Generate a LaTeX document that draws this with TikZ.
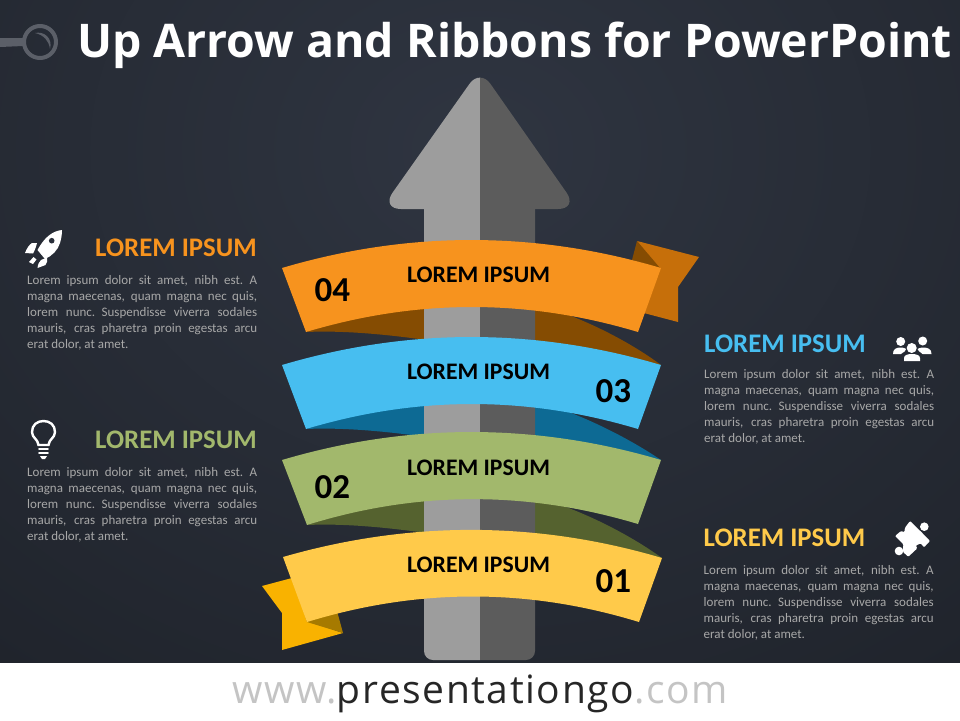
\documentclass[tikz,border=0pt]{standalone}
\usepackage{fontspec}
\setmainfont{Carlito}
\newfontfamily\titlefont{Open Sans}
\newfontfamily\urlfont[LetterSpace=4]{Open Sans}
\usepackage{xcolor}

\definecolor{bgtop}{HTML}{2F3541}
\definecolor{bgbot}{HTML}{20242C}
\definecolor{ringgray}{HTML}{5B5F68}
\definecolor{arrowlight}{HTML}{9D9D9D}
\definecolor{arrowdark}{HTML}{5C5C5C}
\definecolor{bodygray}{HTML}{A8A8A8}
\definecolor{urlgray}{HTML}{C4C4C4}
\definecolor{urldark}{HTML}{262626}
\definecolor{orangeA}{HTML}{F7931E}
\definecolor{orangeB}{HTML}{C66F0A}
\definecolor{orangeC}{HTML}{854C02}
\definecolor{blueA}{HTML}{47BEF0}
\definecolor{blueC}{HTML}{0D6A94}
\definecolor{greenA}{HTML}{A2B86C}
\definecolor{greenC}{HTML}{55622F}
\definecolor{yellowA}{HTML}{FFCA4A}
\definecolor{yellowB}{HTML}{F9B200}
\definecolor{yellowC}{HTML}{A67A00}

\tikzset{
  bandtext/.style={anchor=base, inner sep=0pt, font=\fontsize{23.7}{23.7}\selectfont\bfseries, text=black},
  bandnum/.style={anchor=base west, inner sep=0pt, font=\fontsize{35}{35}\selectfont\bfseries, text=black},
  headtext/.style={inner sep=0pt, font=\fontsize{26.8}{26.8}\selectfont\bfseries},
  bodytext/.style={anchor=north west, inner sep=0pt, text width=230pt, align=left, text=bodygray, font=\fontsize{13}{16}\selectfont},
  iconline/.style={white, line width=2.4pt, line cap=round},
}

\newcommand{\jl}[1]{\leavevmode\hbox to 230pt{\spaceskip=.226em plus 1fil\relax #1}}
\newcommand{\loremlines}{\jl{Lorem ipsum dolor sit amet, nibh est. A}\\
\jl{magna maecenas, quam magna nec quis,}\\
\jl{lorem nunc. Suspendisse viverra sodales}\\
\jl{mauris, cras pharetra proin egestas arcu}\\
{\spaceskip=.226em\relax erat dolor, at amet.}}
\newcommand{\arrowtop}{(480,209) [rounded corners=20pt] -- (381,209) [rounded corners=18pt] -- (480,69) [rounded corners=20pt] -- (578,209) -- cycle}
\newcommand{\arrowstem}{[rounded corners=9pt] (424,180) -- (424,660) -- (535,660) -- (535,180) -- cycle}

\begin{document}
\begin{tikzpicture}[x=1pt,y=-1pt]
    \useasboundingbox (0,0) rectangle (960,720);
    % fond
    \fill[white] (0,0) rectangle (960,720);
\begin{scope}
    \clip (0,0) rectangle (960,662);
    \shade[inner color=bgtop, outer color=bgbot] (-300,-500) rectangle (1260,800);
\end{scope}
    % loupe du titre
    \fill[ringgray] (0,38) -- (23,38) -- (23,46) -- (0,47) -- cycle;
    \draw[ringgray, line width=4pt] (40,42) circle(16);
    \fill[ringgray] (35,33) .. controls (44,31) and (53,38) .. (50,49) .. controls (49,41) and (44,35) .. (35,33) -- cycle;
    \node[anchor=base west, inner sep=0pt, text=white, font=\titlefont\fontsize{46.4}{46.4}\selectfont\bfseries] (title) at (77,57) {Up Arrow and Ribbons for PowerPoint};

    % dessous des rubans
    \fill[orangeC] (306,332) .. controls (350,330) and (400,336) .. (440,342) -- (535,350) -- (661,365) .. controls (630,342) and (590,322) .. (555,310) -- (424,295) -- cycle;
    \fill[blueC] (306,429) .. controls (350,427) and (400,433) .. (440,439) -- (535,447) -- (661,460) .. controls (630,439) and (590,419) .. (555,407) -- (424,392) -- cycle;
    \fill[greenC] (307,525) .. controls (350,523) and (400,529) .. (440,535) -- (535,543) -- (662,558) .. controls (630,535) and (590,515) .. (555,503) -- (424,488) -- cycle;

    % flèche
\begin{scope}
    \clip (0,0) rectangle (480,720);
    \fill[arrowlight] \arrowtop;
    \fill[arrowlight] \arrowstem;
\end{scope}
\begin{scope}
    \clip (480,0) rectangle (960,720);
    \fill[arrowdark] \arrowtop;
    \fill[arrowdark] \arrowstem;
\end{scope}

    % queues
    \fill[orangeB] (637,241) -- (699,257) -- (678,287) -- (678,322) -- (640,312) -- (655,265) -- cycle;
    \fill[orangeC] (637,241) -- (660,268) -- (632,260) -- cycle;
    \fill[yellowB] (262,586) -- (292,578) -- (310,622) -- (343,633) -- (282,650) -- (282,613) -- cycle;
    \fill[yellowC] (307,622) -- (343,633) -- (337,611) -- (300,600) -- cycle;

    % rubans
    \fill[orangeA] (282,268) .. controls (408,230.7) and (535,230.7) .. (661,268) -- (638,332) .. controls (527,298.7) and (417,298.7) .. (306,332) -- cycle;
    \fill[blueA] (282,365) .. controls (408,327.7) and (535,327.7) .. (661,365) -- (638,429) .. controls (527,395.7) and (417,395.7) .. (306,429) -- cycle;
    \fill[greenA] (282,460) .. controls (408,422.7) and (535,422.7) .. (661,460) -- (638,524) .. controls (527,490.7) and (417,490.7) .. (307,525) -- cycle;
    \fill[yellowA] (283,557) .. controls (409,520.7) and (536,520.7) .. (662,558) -- (639,622) .. controls (528,588) and (418,588) .. (307,622) -- cycle;

    \node[bandtext] (bandD) at (478.5,282) {LOREM IPSUM};
    \node[bandtext] (bandC) at (478.5,379) {LOREM IPSUM};
    \node[bandtext] (bandB) at (478.5,475) {LOREM IPSUM};
    \node[bandtext] (bandA) at (478.5,572) {LOREM IPSUM};
    \node[bandnum] (numD) at (314.5,301) {04};
    \node[bandnum] (numC) at (595.5,402) {03};
    \node[bandnum] (numB) at (314.5,498) {02};
    \node[bandnum] (numA) at (595.5,592) {01};

    % textes
    \node[headtext, anchor=base east, text=orangeA] (headD) at (257,256) {LOREM IPSUM};
    \node[headtext, anchor=base east, text=greenA] (headB) at (257,448) {LOREM IPSUM};
    \node[headtext, anchor=base west, text=blueA] (headC) at (704,352) {LOREM IPSUM};
    \node[headtext, anchor=base west, text=yellowA] (headA) at (703.5,546) {LOREM IPSUM};
    \node[bodytext] (bodyD) at (27,275.5) {\loremlines};
    \node[bodytext] (bodyB) at (27,467.5) {\loremlines};
    \node[bodytext] (bodyC) at (704,369.5) {\loremlines};
    \node[bodytext] (bodyA) at (703.5,565.5) {\loremlines};

    % fusée
    \fill[white] (62,230) .. controls (52,231) and (44,238) .. (37.5,250) -- (45,259) .. controls (52,256) and (58,250) .. (60,243) .. controls (61.5,238) and (62,234) .. (62,230) -- cycle;
    \fill[bgtop!70!bgbot] (51.7,240.7) circle(2.8);
    \fill[white] (25,253) .. controls (27,248) and (29,245) .. (32,243) -- (37,243) .. controls (36,247) and (35,250) .. (33,253.5) -- cycle;
    \fill[white] (37.5,268) .. controls (38,264) and (39,262) .. (41,260) -- (47,257.5) .. controls (47.5,261) and (47,263) .. (45.5,265) -- cycle;
    \fill[white] (29,262) -- (33.5,257) -- (36.5,259.5) -- (33,264) -- cycle;

    % ampoule
    \draw[iconline] (38.5,445) .. controls (38,439) and (32,438) .. (32,432) .. controls (32,425) and (37,421) .. (43.5,421) .. controls (50,421) and (55,425) .. (55,432) .. controls (55,438) and (49,439) .. (48.5,445) -- cycle;
    \draw[iconline, line width=1.6pt] (39,449) -- (48,449);
    \draw[iconline, line width=1.6pt] (39,453) -- (48,453);
    \fill[white] (40,456) -- (47,456) -- (45,459) -- (42,459) -- cycle;

    % groupe
    \fill[white] (900.7,341.5) circle(4.5);
    \fill[white] (922.7,341) circle(4.5);
    \fill[white] (893,354) .. controls (893,349) and (896,347.5) .. (901,347.5) .. controls (903,347.5) and (905,348) .. (906,349) .. controls (906.5,351) and (904,351.5) .. (901,354) -- cycle;
    \fill[white] (931.5,354) .. controls (931.5,349) and (928,347.5) .. (923,347.5) .. controls (921,347.5) and (919,348) .. (917.5,349) .. controls (917.5,351) and (920,351.5) .. (922.5,354) -- cycle;
    \fill[white] (911.7,348) circle(5);
    \fill[white] (904,361) -- (904,358) .. controls (904,355) and (908,354) .. (911.7,354) .. controls (916,354) and (920,355) .. (920,358) -- (920,361) -- cycle;

    % puzzle
    \fill[white, rounded corners=1pt] (895,536) -- (901,531) -- (904.3,532.3) -- (905,527.7) -- (910,521) -- (916.7,527.7) -- (921,531.7) -- (930,541) -- (924,547.3) -- (920.7,543.3) -- (915.7,545.7) -- (917.3,548.3) -- (908.3,556.7) -- (903,552) -- (903.3,544.3) -- cycle;
    \fill[white] (924.3,526.7) circle(4.3);
    \fill[white] (899,551) circle(4.3);

    % adresse
    \node[anchor=base, inner sep=0pt, font=\urlfont\fontsize{39}{39}\selectfont] (url) at (480,703) {{\color{urlgray}www.}{\color{urldark}presentationgo}{\color{urlgray}.com}};
\end{tikzpicture}
\end{document}
